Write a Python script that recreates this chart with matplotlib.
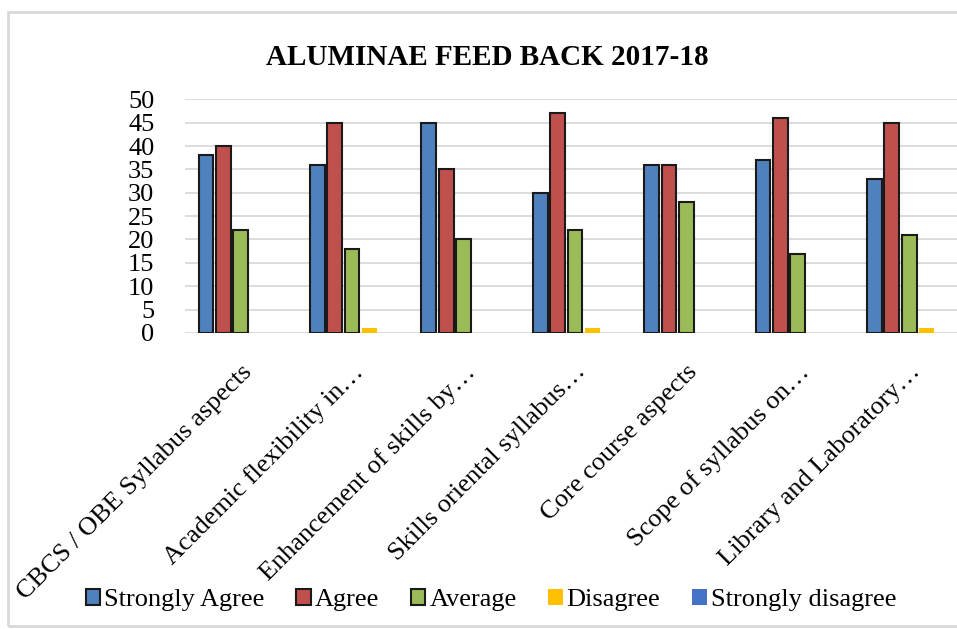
import matplotlib.pyplot as plt
from matplotlib.patches import Rectangle
import numpy as np

# chart data
categories = ['CBCS / OBE Syllabus aspects', 'Academic flexibility in…',
              'Enhancement of skills by…', 'Skills oriental syllabus…',
              'Core course aspects', 'Scope of syllabus on…',
              'Library and Laboratory…']
strongly_agree = [38, 36, 45, 30, 36, 37, 33]
agree = [40, 45, 35, 47, 36, 46, 45]
average = [22, 18, 20, 22, 28, 17, 21]
disagree = [0, 1, 0, 1, 0, 0, 1]
strongly_disagree = [0, 0, 0, 0, 0, 0, 0]

series_names = ['Strongly Agree', 'Agree', 'Average', 'Disagree', 'Strongly disagree']
series_values = [strongly_agree, agree, average, disagree, strongly_disagree]
colors = ['#4F81BD', '#C0504D', '#9BBB59', '#FFC000', '#4472C4']
edges = ['#1a1a1a', '#1a1a1a', '#1a1a1a', 'none', 'none']

plt.rcParams['font.family'] = ['Liberation Serif', 'DejaVu Serif']

fig = plt.figure(figsize=(9.57, 6.29), dpi=100)

# outer chart border (the right side is cut off in the reference)
fig.patches.append(Rectangle((8 / 957, 3 / 629), 1.5, 614 / 629, transform=fig.transFigure,
                             fill=False, edgecolor='#d9d9d9', linewidth=2, clip_on=False))

ax = fig.add_axes([0.1933, 0.4706, 0.815, 0.3716])

x = np.arange(len(categories))
step = 0.156
width = 0.132
for i, (name, vals) in enumerate(zip(series_names, series_values)):
    ax.bar(x + (i - 2) * step, vals, width, color=colors[i], edgecolor=edges[i],
           linewidth=1.5, label=name, zorder=3)

ax.set_xlim(-0.5, len(categories) - 0.5)
ax.set_ylim(0, 50)
ax.set_yticks(range(0, 51, 5))
ax.yaxis.grid(True, color='#d9d9d9', linewidth=1.3, zorder=0)
ax.set_axisbelow(True)
for s in ax.spines.values():
    s.set_visible(False)
ax.tick_params(axis='both', length=0, colors='black')
ax.tick_params(axis='y', pad=22, labelsize=19)

ax.set_xticks(x)
ax.set_xticklabels(categories, rotation=45, ha='right', va='top', rotation_mode='anchor', fontsize=19)
ax.tick_params(axis='x', pad=20)

fig.text(0.509, 0.908, 'ALUMINAE FEED BACK 2017-18', ha='center', va='center',
         fontsize=21, fontweight='bold')

leg = fig.legend(loc='center', bbox_to_anchor=(0.513, 0.046), ncol=5, frameon=False,
                 fontsize=19, handlelength=0.55, handleheight=0.6, handletextpad=0.15,
                 columnspacing=1.2)

fig.savefig('out.png', dpi=100)
